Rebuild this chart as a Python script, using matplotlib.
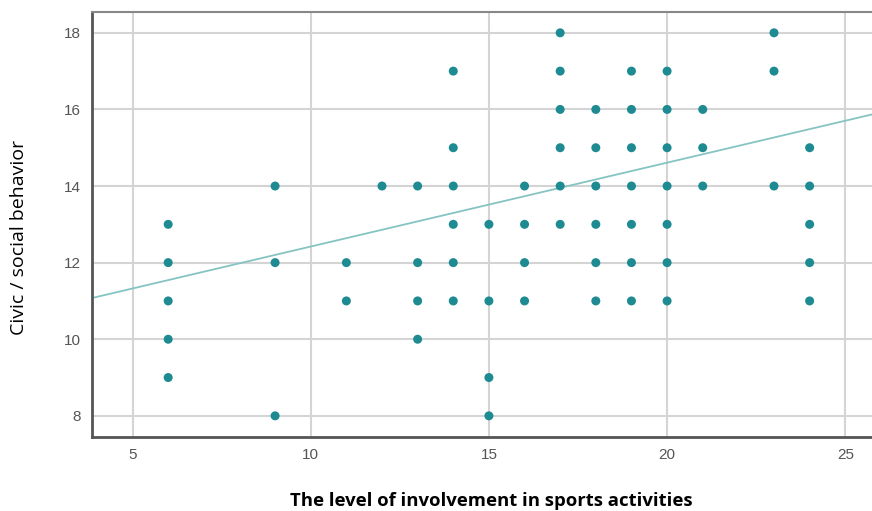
import numpy as np
import matplotlib
matplotlib.use('Agg')
import matplotlib.pyplot as plt

# involvement score -> civic/social behaviour values seen at that score
x_vals = [6, 6, 6, 6, 6,
          9, 9, 9,
          11, 11,
          12,
          13, 13, 13, 13,
          14, 14, 14, 14, 14, 14,
          15, 15, 15, 15,
          16, 16, 16, 16,
          17, 17, 17, 17, 17, 17,
          18, 18, 18, 18, 18, 18,
          19, 19, 19, 19, 19, 19, 19,
          20, 20, 20, 20, 20, 20, 20,
          21, 21, 21,
          23, 23, 23,
          24, 24, 24, 24, 24]
y_vals = [13, 12, 11, 10, 9,
          14, 12, 8,
          12, 11,
          14,
          14, 12, 11, 10,
          17, 15, 14, 13, 12, 11,
          13, 11, 9, 8,
          14, 13, 12, 11,
          18, 17, 16, 15, 14, 13,
          16, 15, 14, 13, 12, 11,
          17, 16, 15, 14, 13, 12, 11,
          17, 16, 15, 14, 13, 12, 11,
          16, 15, 14,
          18, 17, 14,
          15, 14, 13, 12, 11]

# fit line
fit_intercept = 10.23
fit_slope = 0.219

x_ticks = [5, 10, 15, 20, 25]
y_ticks = [8, 10, 12, 14, 16, 18]

fig = plt.figure(figsize=(8.72, 5.11), dpi=100)
ax = fig.add_axes([0.105, 0.145, 0.895, 0.832])

ax.set_xlim(3.85, 25.75)
ax.set_ylim(7.45, 18.55)
ax.set_xticks(x_ticks)
ax.set_yticks(y_ticks)
ax.grid(True, color='#d4d4d4', linewidth=1.5)
ax.set_axisbelow(True)

ax.scatter(x_vals, y_vals, s=42, color='#1e8a92', edgecolors='none', zorder=3)

xs = np.array(ax.get_xlim())
ax.plot(xs, fit_intercept + fit_slope * xs, color='#86c3c3', linewidth=1.3, zorder=2)

for side in ['left', 'bottom']:
    ax.spines[side].set_color('#555555')
    ax.spines[side].set_linewidth(2)
ax.spines['top'].set_color('#888888')
ax.spines['top'].set_linewidth(1.5)
ax.spines['right'].set_visible(False)

ax.tick_params(length=0, labelsize=11, labelcolor='#555555', pad=8)
for lab in ax.get_xticklabels() + ax.get_yticklabels():
    lab.set_family('Liberation Sans')

ax.set_ylabel('Civic / social behavior', family='Open Sans', fontsize=14)
ax.yaxis.set_label_coords(-0.082, 0.47)
ax.set_xlabel('The level of involvement in sports activities', family='Open Sans',
              fontsize=13.3, fontweight='bold')
ax.xaxis.set_label_coords(0.512, -0.13)
ax.xaxis.label.set_va('top')

fig.savefig('out.png', dpi=100)
